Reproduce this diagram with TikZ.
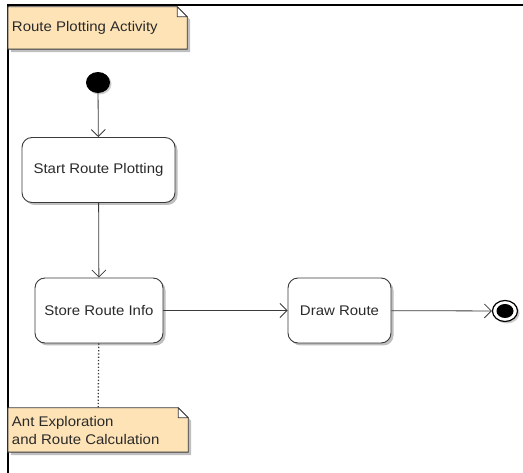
\documentclass[tikz,border=0pt]{standalone}
\usepackage{fontspec}
\setmainfont{Liberation Sans}[FakeStretch=1.07]
\usetikzlibrary{arrows.meta,shapes.geometric,shadows}
\definecolor{notefill}{HTML}{FDE3B6}
\definecolor{lineg}{HTML}{3A3A3A}
\definecolor{textg}{HTML}{2A2A2A}
\tikzset{
  statebox/.style={draw=lineg, line width=0.9pt, rounded corners=10pt, fill=white,
    text=textg, font=\fontsize{14}{17}\selectfont,
    drop shadow={shadow xshift=2.5pt, shadow yshift=-2.5pt, fill=black, opacity=0.25}},
  notebox/.style={inner sep=0pt, text=textg, font=\fontsize{14}{18}\selectfont, align=left},
  flow/.style={draw=lineg, line width=0.8pt, -{Straight Barb[length=7pt,width=14pt,line width=0.8pt]}},
}
\newcommand{\notepath}[2]{%
  \fill[black, opacity=0.25] ([xshift=3pt,yshift=-3pt]#1.north west) -- ([xshift=-7pt,yshift=-3pt]#1.north east)
     -- ([xshift=3pt,yshift=-13pt]#1.north east) -- ([xshift=3pt,yshift=-3pt]#1.south east) -- ([xshift=3pt,yshift=-3pt]#1.south west) -- cycle;
  \filldraw[fill=notefill, draw=lineg, line width=0.9pt] (#1.north west) -- ([xshift=-10pt]#1.north east)
     -- ([yshift=-10pt]#1.north east) -- (#1.south east) -- (#1.south west) -- cycle;
  \filldraw[fill=white, draw=lineg, line width=0.6pt] ([xshift=-10pt]#1.north east) -- ([xshift=-10pt,yshift=-10pt]#1.north east) -- ([yshift=-10pt]#1.north east) -- cycle;
  \node[notebox, anchor=west] at ([xshift=4pt]#1.west) {#2};
}
\begin{document}
\begin{tikzpicture}[x=1pt,y=-1pt]
\useasboundingbox (0,0) rectangle (523,473);
% frame
\draw[black, line width=2pt] (8,473) -- (8,5) -- (523,5);

% notes (placeholders for geometry)
\node[minimum width=179pt, minimum height=42pt, inner sep=0pt] (note1) at (97.5,28) {};
\node[minimum width=180pt, minimum height=44pt, inner sep=0pt] (note2) at (98,430) {};
\notepath{note1}{Route Plotting Activity}
\notepath{note2}{Ant Exploration\\and Route Calculation}

% initial node
\node[ellipse, fill=black, minimum width=24pt, minimum height=21pt, inner sep=0pt,
  drop shadow={shadow xshift=1.5pt, shadow yshift=-1.5pt, fill=black, opacity=0.2}] (init) at (98,82.5) {};

% states
\node[statebox, minimum width=153pt, minimum height=65pt] (start) at (98.5,170) {Start Route Plotting};
\node[statebox, minimum width=128pt, minimum height=65pt] (store) at (99,310.5) {Store Route Info};
\node[statebox, minimum width=103pt, minimum height=65pt] (drawr) at (339.5,310.5) {Draw Route};

% final node
\node[ellipse, draw=black, line width=1.2pt, fill=white, minimum width=25pt, minimum height=21pt, inner sep=0pt,
  drop shadow={shadow xshift=2pt, shadow yshift=-2pt, fill=black, opacity=0.2}] (final) at (505,311) {};
\node[ellipse, fill=black, minimum width=17pt, minimum height=14pt, inner sep=0pt] (finalin) at (final.center) {};

% connectors
\draw[flow] (init) -- (start);
\draw[flow] (start) -- (store);
\draw[flow] (store) -- (drawr);
\draw[flow] (drawr) -- (final);
\draw[lineg, line width=1.3pt, dotted] (store) -- (note2);
\end{tikzpicture}
\end{document}
